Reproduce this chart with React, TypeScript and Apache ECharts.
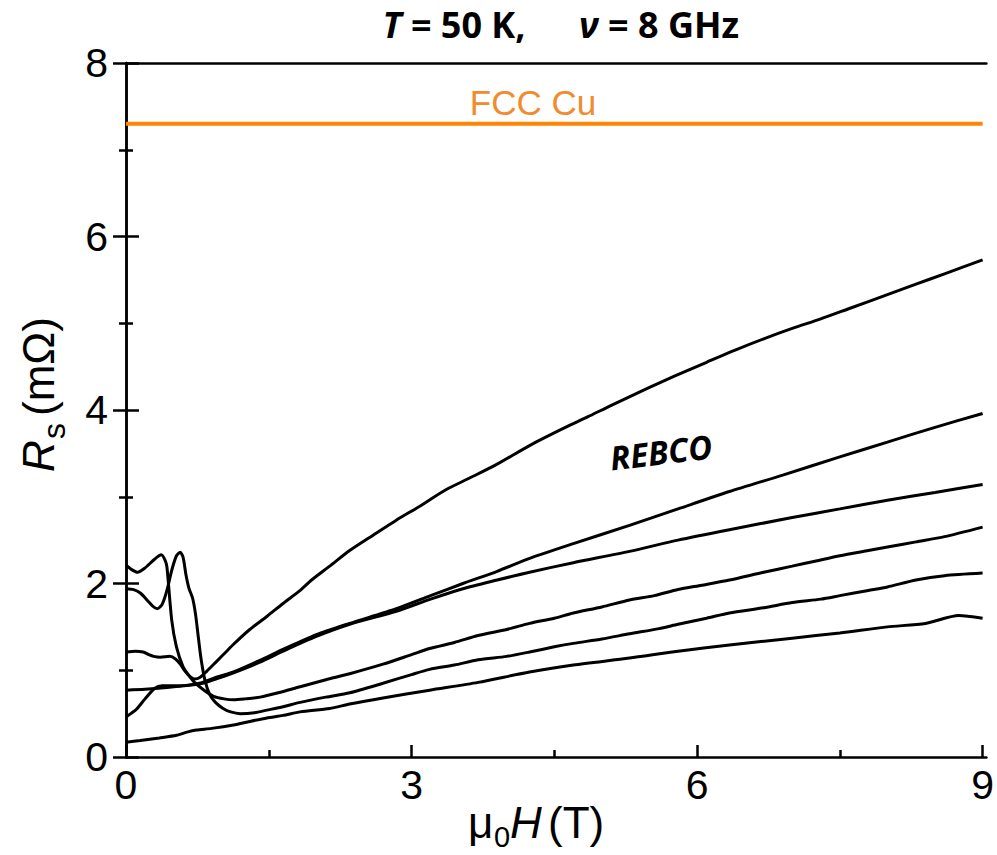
import React, { useEffect, useRef } from "react";
import * as echarts from "echarts";

// Axis ranges and tick positions
const xMin = 0;
const xMax = 9.04;
const xMajorTicks = [0, 3, 6, 9];
const xMinorTicks = [1.5, 4.5, 7.5];
const yMin = 0;
const yMax = 8;
const yStep = 2;

// Copper reference level (mΩ) across the field range (T)
const cuLevel = 7.3;
const cuFieldRange = [0, 9];

// Surface resistance Rs (mΩ) vs field μ0H (T) for the REBCO samples
const rebcoA = [
  [0, 2.21], [0.06, 2.16], [0.12, 2.13], [0.2, 2.18], [0.3, 2.28], [0.37, 2.33],
  [0.41, 2.27], [0.43, 2.19], [0.48, 1.58], [0.53, 1.27], [0.6, 1.04], [0.66, 0.94],
  [0.72, 0.86], [0.82, 0.77], [0.92, 0.7], [1.03, 0.67], [1.13, 0.66], [1.25, 0.67],
  [1.41, 0.69], [1.6, 0.74], [1.83, 0.81], [2.1, 0.89], [2.35, 0.96], [2.7, 1.07],
  [3.0, 1.18], [3.19, 1.25], [3.45, 1.32], [3.7, 1.4], [4.0, 1.47], [4.24, 1.54],
  [4.5, 1.6], [4.7, 1.66], [5.0, 1.73], [5.29, 1.81], [5.55, 1.86], [5.8, 1.93],
  [6.05, 1.98], [6.34, 2.04], [6.7, 2.13], [7.0, 2.2], [7.25, 2.26], [7.5, 2.32],
  [7.8, 2.38], [8.0, 2.42], [8.3, 2.48], [8.6, 2.54], [9.0, 2.65],
];

const rebcoB = [
  [0, 1.94], [0.08, 1.93], [0.15, 1.89], [0.22, 1.81], [0.28, 1.74], [0.33, 1.71],
  [0.38, 1.76], [0.43, 1.92], [0.48, 2.15], [0.53, 2.32], [0.57, 2.36], [0.6, 2.3],
  [0.63, 2.1], [0.66, 1.95], [0.7, 1.83], [0.73, 1.65], [0.76, 1.38], [0.79, 1.12],
  [0.83, 0.88], [0.88, 0.72], [0.94, 0.63], [1.02, 0.56], [1.1, 0.52], [1.2, 0.5],
  [1.35, 0.51], [1.48, 0.54], [1.65, 0.58], [1.83, 0.63], [2.1, 0.69], [2.35, 0.74],
  [2.7, 0.85], [3.0, 0.95], [3.19, 1.01], [3.45, 1.06], [3.7, 1.12], [4.0, 1.16],
  [4.24, 1.21], [4.5, 1.27], [4.7, 1.31], [5.0, 1.36], [5.29, 1.42], [5.6, 1.48],
  [5.8, 1.53], [6.1, 1.6], [6.34, 1.66], [6.7, 1.72], [7.0, 1.78], [7.3, 1.82],
  [7.5, 1.86], [7.8, 1.92], [8.0, 1.96], [8.3, 2.04], [8.6, 2.09], [9.0, 2.12],
];

const rebcoC = [
  [0, 1.21], [0.1, 1.22], [0.18, 1.21], [0.24, 1.18], [0.29, 1.16], [0.36, 1.15],
  [0.46, 1.16], [0.52, 1.13], [0.57, 1.07], [0.62, 0.99], [0.67, 0.93], [0.72, 0.9],
  [0.78, 0.92], [0.85, 0.99], [0.95, 1.1], [1.05, 1.21], [1.13, 1.3], [1.3, 1.47],
  [1.48, 1.62], [1.65, 1.77], [1.83, 1.92], [1.95, 2.04], [2.14, 2.2], [2.35, 2.38],
  [2.6, 2.56], [2.84, 2.73], [3.1, 2.9], [3.36, 3.08], [3.6, 3.21], [3.89, 3.37],
  [4.24, 3.59], [4.6, 3.79], [4.85, 3.92], [5.11, 4.06], [5.5, 4.26], [5.78, 4.4],
  [6.1, 4.55], [6.4, 4.69], [6.7, 4.82], [7.0, 4.94], [7.3, 5.05], [7.6, 5.17],
  [8.0, 5.33], [8.3, 5.45], [8.6, 5.57], [9.0, 5.73],
];

const rebcoD = [
  [0, 0.77], [0.2, 0.78], [0.43, 0.8], [0.6, 0.82], [0.77, 0.85], [0.95, 0.92],
  [1.13, 0.98], [1.4, 1.11], [1.65, 1.24], [2.0, 1.41], [2.35, 1.54], [2.84, 1.71],
  [3.2, 1.86], [3.54, 2.0], [3.9, 2.14], [4.24, 2.29], [4.7, 2.46], [5.29, 2.67],
  [5.8, 2.86], [6.34, 3.06], [6.9, 3.25], [7.5, 3.46], [8.0, 3.63], [8.5, 3.8],
  [9.0, 3.96],
];

const rebcoE = [
  [0, 0.46], [0.05, 0.5], [0.11, 0.55], [0.2, 0.67], [0.3, 0.79], [0.38, 0.82],
  [0.5, 0.82], [0.77, 0.84], [0.95, 0.9], [1.13, 0.97], [1.4, 1.09], [1.65, 1.22],
  [2.0, 1.39], [2.35, 1.53], [2.84, 1.68], [3.2, 1.82], [3.54, 1.94], [3.9, 2.04],
  [4.24, 2.13], [4.7, 2.24], [5.29, 2.37], [5.8, 2.5], [6.34, 2.62], [7.0, 2.76],
  [7.5, 2.86], [8.0, 2.96], [8.5, 3.05], [9.0, 3.14],
];

const rebcoF = [
  [0, 0.17], [0.15, 0.19], [0.35, 0.22], [0.53, 0.25], [0.65, 0.29], [0.74, 0.31],
  [0.9, 0.33], [1.13, 0.37], [1.3, 0.41], [1.48, 0.45], [1.65, 0.48], [1.83, 0.52],
  [2.14, 0.56], [2.35, 0.61], [2.7, 0.68], [3.19, 0.77], [3.7, 0.86], [4.24, 0.98],
  [4.7, 1.06], [5.29, 1.14], [5.8, 1.22], [6.34, 1.29], [7.0, 1.37], [7.5, 1.43],
  [8.0, 1.5], [8.4, 1.54], [8.75, 1.63], [9.0, 1.6],
];

const rebcoCurves = [rebcoA, rebcoB, rebcoC, rebcoD, rebcoE, rebcoF];

const ARIAL = "'Liberation Sans', Arial, sans-serif";
const SANS = "'Open Sans', 'Noto Sans', sans-serif";
const ORANGE = "#FF8505";

export default function App() {
  const ref = useRef<HTMLDivElement>(null);

  useEffect(() => {
    if (!ref.current) return;
    const chart = echarts.init(ref.current, null, { renderer: "svg" });

    const axisLine = { show: true, lineStyle: { color: "#000", width: 2.5 } };
    const titleStyle = (text: string, cx: number) => ({
      type: "text",
      x: cx,
      y: 24.5,
      style: {
        text,
        fontSize: 36,
        fontWeight: "bold",
        fontFamily: SANS,
        fill: "#000",
        align: "center",
        verticalAlign: "middle",
        rich: {
          i: { fontSize: 36, fontWeight: "bold", fontStyle: "italic", fontFamily: SANS, fill: "#000" },
        },
      },
    });

    const option = {
      animation: false,
      backgroundColor: "#fff",
      grid: { left: 126, right: 9, top: 63, bottom: 98, containLabel: false },
      xAxis: [
        {
          type: "value",
          position: "bottom",
          min: xMin,
          max: xMax,
          interval: 3,
          axisLine,
          axisTick: {
            show: true,
            inside: true,
            length: 12,
            customValues: xMajorTicks,
            lineStyle: { color: "#000", width: 2.5 },
          },
          axisLabel: {
            show: true,
            customValues: xMajorTicks,
            formatter: (v: number) => (xMajorTicks.includes(v) ? String(v) : ""),
            fontSize: 41,
            fontFamily: ARIAL,
            color: "#000",
            margin: 7,
          },
          splitLine: { show: false },
        },
        {
          type: "value",
          position: "bottom",
          min: xMin,
          max: xMax,
          interval: 1.5,
          axisLine: { show: false },
          axisTick: {
            show: true,
            inside: true,
            length: 7,
            customValues: xMinorTicks,
            lineStyle: { color: "#000", width: 2.5 },
          },
          axisLabel: { show: false },
          splitLine: { show: false },
        },
        {
          type: "value",
          position: "top",
          min: xMin,
          max: xMax,
          axisLine,
          axisTick: { show: false },
          axisLabel: { show: false },
          splitLine: { show: false },
        },
      ],
      yAxis: [
        {
          type: "value",
          position: "left",
          min: yMin,
          max: yMax,
          interval: yStep,
          axisLine,
          axisTick: { show: true, inside: true, length: 13, lineStyle: { color: "#000", width: 2.5 } },
          minorTick: { show: true, splitNumber: 2, length: 7, lineStyle: { color: "#000", width: 2.5 } },
          axisLabel: { fontSize: 41, fontFamily: ARIAL, color: "#000", margin: 18 },
          splitLine: { show: false },
          minorSplitLine: { show: false },
        },
        {
          type: "value",
          position: "right",
          min: yMin,
          max: yMax,
          interval: yStep,
          axisLine,
          axisTick: { show: true, inside: true, length: 13, lineStyle: { color: "#000", width: 2.5 } },
          minorTick: { show: true, splitNumber: 2, length: 7, lineStyle: { color: "#000", width: 2.5 } },
          axisLabel: { show: false },
          splitLine: { show: false },
          minorSplitLine: { show: false },
        },
      ],
      series: [
        {
          type: "line",
          xAxisIndex: 0,
          yAxisIndex: 0,
          data: cuFieldRange.map((h) => [h, cuLevel]),
          showSymbol: false,
          lineStyle: { color: ORANGE, width: 4 },
          silent: true,
        },
        ...rebcoCurves.map((curve) => ({
          type: "line",
          xAxisIndex: 0,
          yAxisIndex: 0,
          data: curve,
          showSymbol: false,
          smooth: 0.25,
          lineStyle: { color: "#000", width: 3 },
          silent: true,
        })),
      ],
      graphic: [
        // measurement conditions, in two parts with a wide gap between them
        titleStyle("{i|T} = 50 K,", 454),
        titleStyle("{i|ν} = 8 GHz", 659),
        {
          type: "text",
          x: 533,
          y: 102,
          style: {
            text: "FCC Cu",
            fontSize: 35,
            fontFamily: ARIAL,
            fill: "#F28A2E",
            align: "center",
            verticalAlign: "middle",
          },
        },
        {
          type: "text",
          x: 661,
          y: 452,
          rotation: 0.12,
          style: {
            text: "REBCO",
            fontSize: 33,
            fontWeight: "bold",
            fontStyle: "italic",
            fontFamily: SANS,
            fill: "#000",
            align: "center",
            verticalAlign: "middle",
          },
        },
        // y-axis title: R_s (mΩ), rotated to read bottom-to-top
        {
          type: "group",
          x: 53,
          y: 472,
          rotation: Math.PI / 2,
          children: [
            {
              type: "text",
              x: 0,
              y: -15,
              style: { text: "R", fontSize: 44, fontStyle: "italic", fontFamily: ARIAL, fill: "#000", verticalAlign: "middle" },
            },
            {
              type: "text",
              x: 33,
              y: 1,
              style: { text: "s", fontSize: 32, fontFamily: ARIAL, fill: "#000", verticalAlign: "middle" },
            },
            {
              type: "text",
              x: 56,
              y: -15,
              style: { text: "(mΩ)", fontSize: 44, fontFamily: ARIAL, fill: "#000", verticalAlign: "middle" },
            },
          ],
        },
        // x-axis title: μ0 H (T)
        {
          type: "text",
          x: 468,
          y: 822,
          style: { text: "μ", fontSize: 44, fontFamily: ARIAL, fill: "#000", verticalAlign: "middle" },
        },
        {
          type: "text",
          x: 494,
          y: 837,
          style: { text: "0", fontSize: 29, fontFamily: ARIAL, fill: "#000", verticalAlign: "middle" },
        },
        {
          type: "text",
          x: 510,
          y: 822,
          style: { text: "H", fontSize: 44, fontStyle: "italic", fontFamily: ARIAL, fill: "#000", verticalAlign: "middle" },
        },
        {
          type: "text",
          x: 548,
          y: 822,
          style: { text: "(T)", fontSize: 44, fontFamily: ARIAL, fill: "#000", verticalAlign: "middle" },
        },
      ],
    };

    chart.setOption(option as any);
    return () => chart.dispose();
  }, []);

  return (
    <div
      ref={ref}
      style={{ position: "fixed", left: 0, top: 0, width: 997, height: 855, background: "#fff" }}
    />
  );
}
